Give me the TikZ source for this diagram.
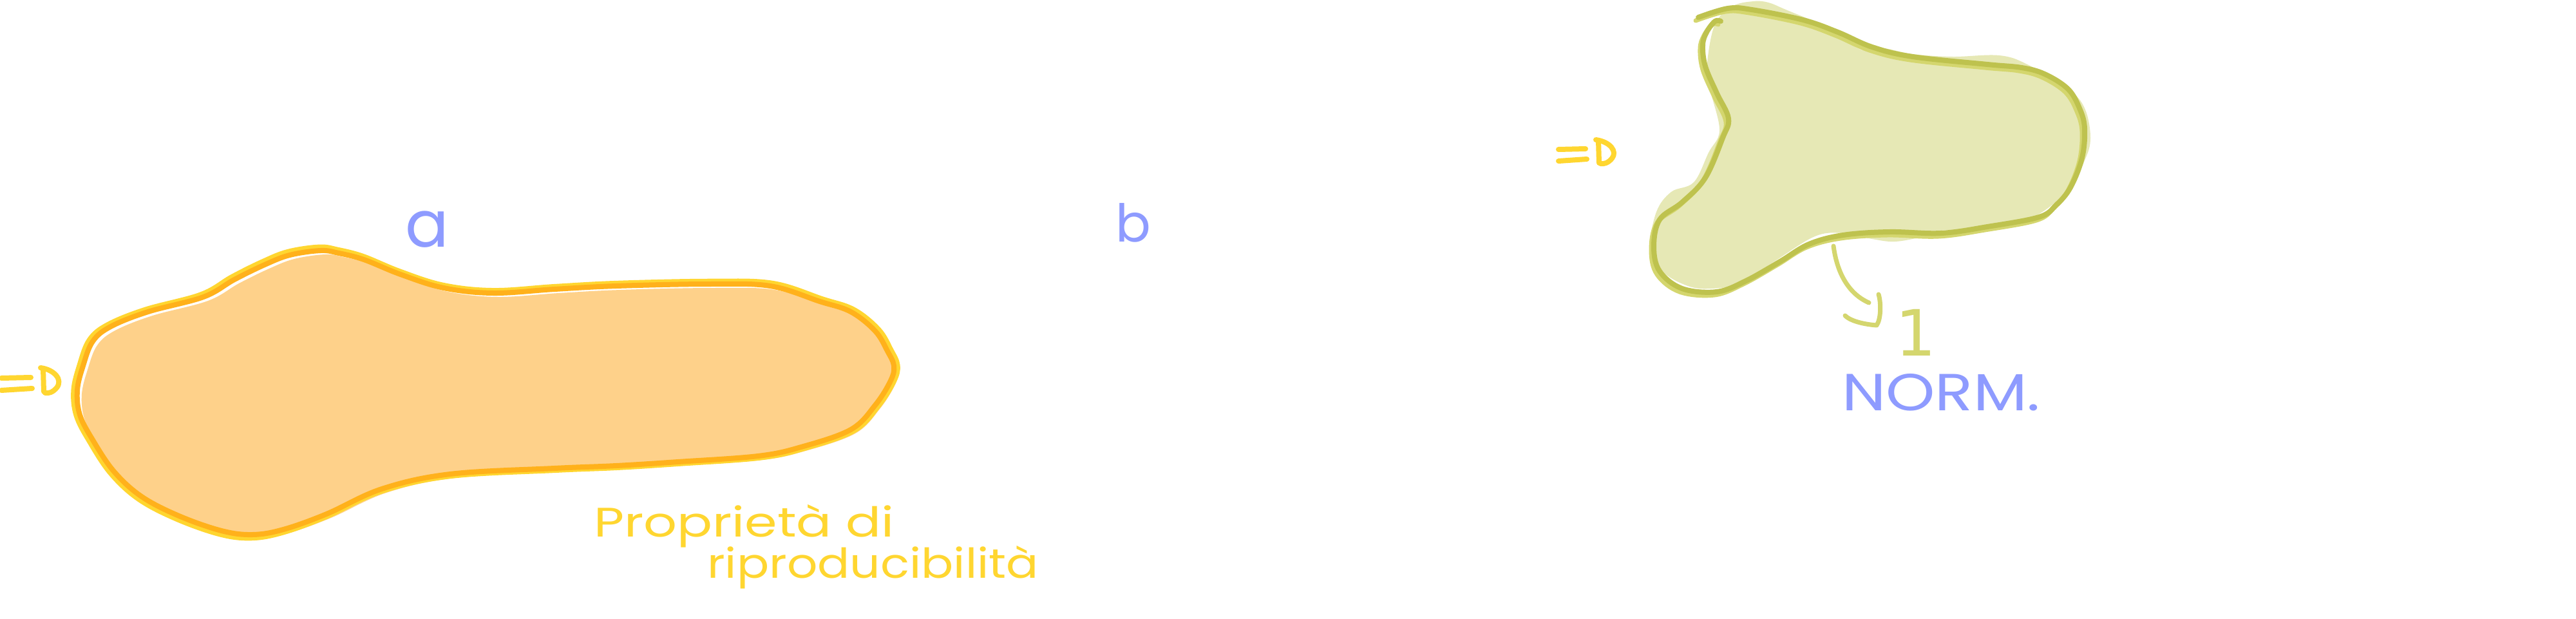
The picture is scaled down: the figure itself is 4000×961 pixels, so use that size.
\documentclass[tikz,border=0pt]{standalone}
\usepackage{fontspec}
\setmainfont{Poppins}
\newfontfamily\onefont{DejaVu Sans}
\definecolor{ofill}{HTML}{FED18A}
\definecolor{odark}{HTML}{FFB11B}
\definecolor{oyel}{HTML}{FFD630}
\definecolor{gfill}{HTML}{E6E8B5}
\definecolor{gdark}{HTML}{BEC24E}
\definecolor{glight}{HTML}{D4D66E}
\definecolor{penblue}{HTML}{8E9BFF}
\tikzset{
  hand/.style={line cap=round, line join=round},
  bluetext/.style={text=penblue, inner sep=0pt},
  yeltext/.style={text=oyel, inner sep=0pt, font=\fontsize{64}{70}\selectfont},
  yelpen/.style={draw=oyel, line width=8, hand},
  greenpen/.style={draw=glight, line width=7, hand},
}
\def\OB{plot[smooth cycle,tension=0.6] coordinates {(498,389) (526,393) (565,403) (622,426) (689,447) (766,455) (861,449) (957,444) (1100,441) (1196,444) (1273,468) (1321,484) (1359,514) (1378,545) (1388,568) (1383,591) (1359,629) (1321,667) (1244,694) (1177,708) (1053,717) (957,723) (861,727) (699,736) (593,759) (507,798) (440,822) (392,830) (344,824) (278,801) (220,771) (177,732) (144,683) (124,644) (120,606) (129,568) (144,530) (172,507) (230,484) (316,461) (364,434) (411,411) (450,396)}}
\def\GF{plot[smooth cycle,tension=0.6] coordinates {(2746,4) (2773,15) (2845,46) (2889,77) (2925,75) (2970,84) (3032,88) (3104,86) (3148,100) (3211,138) (3237,168) (3246,214) (3237,249) (3211,295) (3157,337) (3086,354) (3014,358) (2987,367) (2943,375) (2907,371) (2862,362) (2818,367) (2755,406) (2702,440) (2657,448) (2621,444) (2581,421) (2563,383) (2572,329) (2595,298) (2630,283) (2653,237) (2670,203) (2657,145) (2650,110) (2662,40) (2690,10) (2723,2)}}
\def\GO{plot[smooth,tension=0.6] coordinates {(2672,33) (2663,33) (2650,50) (2644,70) (2648,103) (2666,145) (2684,184) (2675,214) (2648,276) (2612,314) (2577,341) (2568,383) (2577,421) (2612,448) (2666,453) (2711,436) (2764,406) (2809,379) (2862,365) (2934,360) (3014,362) (3086,352) (3166,337) (3193,318) (3215,291) (3233,245) (3237,199) (3229,168) (3211,138) (3175,115) (3139,105) (3086,100) (2970,88) (2907,73) (2854,50) (2800,31) (2720,15) (2683,13) (2637,27)}}
\begin{document}
\begin{tikzpicture}[x=1pt,y=-1pt]
\useasboundingbox (0,0) rectangle (4000,961);
\fill[white] (0,0) rectangle (4000,961);
% orange blob
\begin{scope}[shift={(7,6)}]
  \fill[ofill] \OB;
\end{scope}
\begin{scope}[shift={(754,612)},xscale=1.008,yscale=1.022,shift={(-754,-612)}]
  \draw[draw=oyel, line width=9, hand] \OB;
\end{scope}
\draw[draw=odark, line width=8, hand] \OB;
% left implies sign
\draw[yelpen] (2,587) -- (48,586);
\draw[yelpen] (2,606) -- (50,603);
\draw[yelpen] (67,572) -- (68,608);
\draw[yelpen] (63,571) .. controls (85,574) and (98,590) .. (88,602) .. controls (82,609) and (76,611) .. (70,610);
% labels
\node[bluetext, font=\fontsize{100}{110}\selectfont, anchor=base] (la) at (663,383) {a};
\node[bluetext, font=\fontsize{81}{90}\selectfont, anchor=base] (lb) at (1760,375) {b};
\node[yeltext, anchor=base west] (p1) at (922,833) {\scalebox{1.27}[1]{Proprietà di}};
\node[yeltext, anchor=base west] (p2) at (1098,897) {\scalebox{1.16}[1]{riproducibilità}};
% green blob
\fill[gfill] \GF;
\begin{scope}[shift={(-4,5)}]
  \draw[greenpen] \GO;
\end{scope}
\draw[draw=gdark, line width=8, hand] \GO;
% implies sign near green blob
\draw[yelpen] (2420,232) -- (2462,231);
\draw[yelpen] (2420,250) -- (2464,247);
\draw[yelpen] (2482,218) -- (2483,253);
\draw[yelpen] (2478,217) .. controls (2500,220) and (2512,235) .. (2503,246) .. controls (2497,253) and (2491,255) .. (2485,254);
% arrow to 1
\coordinate (arrS) at (2847,382);
\coordinate (arrT) at (2902,470);
\draw[greenpen] (arrS) .. controls (2852,420) and (2868,455) .. (arrT);
\draw[greenpen] (2917,457) .. controls (2921,470) and (2921,495) .. (2914,505) .. controls (2900,504) and (2875,500) .. (2865,490);
\node[text=glight, inner sep=0pt, font=\onefont\fontsize{99}{105}\selectfont, anchor=base] (one) at (2975,552) {1};
\node[bluetext, font=\fontsize{81}{90}\selectfont, anchor=base west] (norm) at (2860,637) {\scalebox{1.2}[1]{NORM.}};
\end{tikzpicture}
\end{document}
